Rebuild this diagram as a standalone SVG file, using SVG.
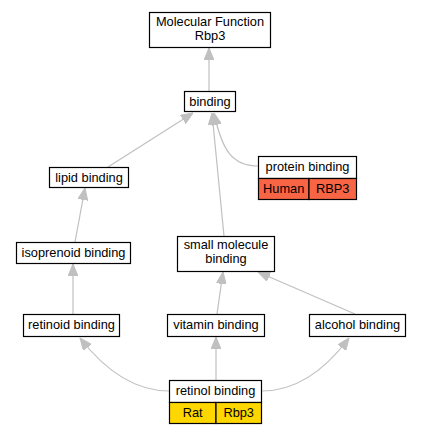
<svg xmlns="http://www.w3.org/2000/svg" width="421" height="435" viewBox="0 0 421 435">
<style>
.box{fill:#fff;stroke:#000;stroke-width:1.2}
.t{font-family:"Liberation Sans",Arial,sans-serif;font-size:12.8px;fill:#000;text-anchor:middle}
.e{fill:none;stroke:#c0c0c0;stroke-width:1.2}
.h{fill:#c0c0c0;stroke:#c0c0c0}
</style>
<defs>
<marker id="a" viewBox="0 0 12 10" refX="12" refY="5" markerWidth="12" markerHeight="10" markerUnits="userSpaceOnUse" orient="auto">
<path class="h" d="M0,0L12,5L0,10z"/>
</marker>
</defs>
<rect width="421" height="435" fill="#fff"/>
<g id="edges">
<path class="e" d="M209,91L209,48" marker-end="url(#a)"/>
<path class="e" d="M108,167L193,113" marker-end="url(#a)"/>
<path class="e" d="M224,236L212,113" marker-end="url(#a)"/>
<path class="e" d="M258,166C232,166 222,150 214,113" marker-end="url(#a)"/>
<path class="e" d="M75,242L85,188" marker-end="url(#a)"/>
<path class="e" d="M73,314L73,264" marker-end="url(#a)"/>
<path class="e" d="M217,314L223,272" marker-end="url(#a)"/>
<path class="e" d="M355,314L258,272" marker-end="url(#a)"/>
<path class="e" d="M169,391C135,391 105,370 80,338" marker-end="url(#a)"/>
<path class="e" d="M216,380L216,337" marker-end="url(#a)"/>
<path class="e" d="M262,391C296,391 325,370 349,338" marker-end="url(#a)"/>
</g>
<g id="mf">
<rect class="box" x="149.5" y="12.5" width="121" height="35"/>
<text class="t" x="210" y="26">Molecular Function</text>
<text class="t" x="210" y="40">Rbp3</text>
</g>
<g id="binding">
<rect class="box" x="184.5" y="91.5" width="51" height="20"/>
<text class="t" x="210" y="106">binding</text>
</g>
<g id="lipid">
<rect class="box" x="49.5" y="167.5" width="79" height="20"/>
<text class="t" x="89" y="182">lipid binding</text>
</g>
<g id="protein">
<rect class="box" x="258.5" y="156.5" width="98" height="22"/>
<text class="t" x="307.5" y="171">protein binding</text>
<rect x="258.5" y="178.5" width="50.5" height="21" fill="#f86545" stroke="#000" stroke-width="1.2"/>
<rect x="309" y="178.5" width="47.5" height="21" fill="#f86545" stroke="#000" stroke-width="1.2"/>
<text class="t" x="283.7" y="193">Human</text>
<text class="t" x="332.7" y="193">RBP3</text>
</g>
<g id="isoprenoid">
<rect class="box" x="16.5" y="242.5" width="114" height="21"/>
<text class="t" x="73.5" y="257">isoprenoid binding</text>
</g>
<g id="smallmol">
<rect class="box" x="177.5" y="236.5" width="97" height="35"/>
<text class="t" x="226" y="249">small molecule</text>
<text class="t" x="226" y="263">binding</text>
</g>
<g id="retinoid">
<rect class="box" x="23.5" y="314.5" width="96" height="22"/>
<text class="t" x="71.5" y="329">retinoid binding</text>
</g>
<g id="vitamin">
<rect class="box" x="167.5" y="314.5" width="97" height="22"/>
<text class="t" x="216" y="329">vitamin binding</text>
</g>
<g id="alcohol">
<rect class="box" x="309.5" y="314.5" width="96" height="22"/>
<text class="t" x="357.5" y="329">alcohol binding</text>
</g>
<g id="retinol">
<rect class="box" x="169.5" y="380.5" width="92" height="22"/>
<text class="t" x="215.5" y="395">retinol binding</text>
<rect x="169.5" y="402.5" width="46.5" height="21" fill="#ffd700" stroke="#000" stroke-width="1.2"/>
<rect x="216" y="402.5" width="45.5" height="21" fill="#ffd700" stroke="#000" stroke-width="1.2"/>
<text class="t" x="192.7" y="417">Rat</text>
<text class="t" x="238.7" y="417">Rbp3</text>
</g>
</svg>
